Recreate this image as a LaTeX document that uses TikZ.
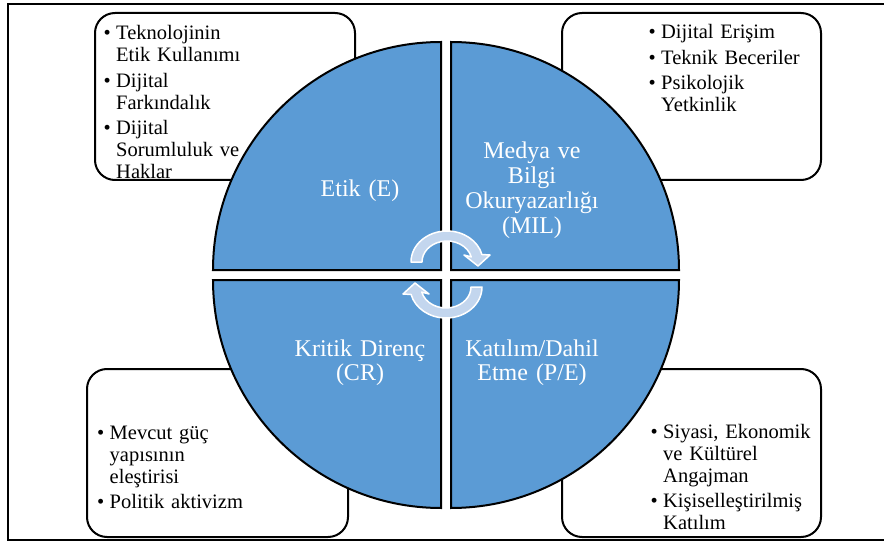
\documentclass[tikz,border=0pt]{standalone}
\usepackage{fontspec}
\setmainfont{Liberation Serif}
\definecolor{quadblue}{HTML}{5B9BD5}
\definecolor{arrowfill}{HTML}{C3D6EE}

% bullet items: bullet in a fixed box, the wrapped lines aligned after it;
% \prevdepth is reset so the next item keeps the normal line distance
\newcommand\firstitem[1]{\noindent\makebox[12.5pt][l]{\textbullet}%
  \parbox[t]{220pt}{\raggedright #1\strut}\par\prevdepth=\dp\strutbox}
\newcommand\nextitem[1]{\vspace{3.5pt}\firstitem{#1}}

\begin{document}
\begin{tikzpicture}[x=1pt,y=1pt,
  quadrant/.style={fill=quadblue,draw=black,line width=2pt,line join=miter},
  infobox/.style={draw=black,line width=2pt,rounded corners=20pt},
  boxtext/.style={anchor=base west,inner sep=0pt,text width=240pt,align=left,
    font=\fontsize{20.5}{22}\selectfont},
  quadlabel/.style={anchor=base,inner sep=0pt,text width=190pt,align=center,
    text=white,font=\fontsize{24}{24.7}\selectfont},
  cyclearrow/.style={fill=arrowfill,draw=white,line width=1.5pt,line join=round}]

\useasboundingbox (0,0) rectangle (884,542);

% outer frame (left, top and bottom edges)
\draw[line width=2pt] (890,538) -- (8.3,538) -- (8.3,2) -- (890,2);

% corner boxes
\draw[infobox] (95,529) rectangle (355,362);
\draw[infobox] (562,529) rectangle (821,362);
\draw[infobox] (87,173) rectangle (348,5);
\draw[infobox] (562,173) rectangle (821,5);

% box contents
\node[boxtext] (ethics) at (103.5,502) {%
  \firstitem{Teknolojinin\\Etik Kullanımı}%
  \nextitem{Dijital\\Farkındalık}%
  \nextitem{Dijital\\Sorumluluk ve\\Haklar}};
\node[boxtext] (mil) at (648.5,503) {%
  \firstitem{Dijital Erişim}%
  \nextitem{Teknik Beceriler}%
  \nextitem{Psikolojik\\Yetkinlik}};
\node[boxtext] (critical) at (97,103) {%
  \firstitem{Mevcut güç\\yapısının\\eleştirisi}%
  \nextitem{Politik aktivizm}};
\node[boxtext] (participation) at (650.5,104) {%
  \firstitem{Siyasi, Ekonomik\\ve Kültürel\\Angajman}%
  \nextitem{Kişiselleştirilmiş\\Katılım}};

% four quadrants of the circle
\draw[quadrant] (441,272) -- ++(-228,0) arc[start angle=180,end angle=90,radius=228] -- cycle;
\draw[quadrant] (451,272) -- ++(0,228) arc[start angle=90,end angle=0,radius=228] -- cycle;
\draw[quadrant] (441,262) -- ++(0,-228) arc[start angle=270,end angle=180,radius=228] -- cycle;
\draw[quadrant] (451,262) -- ++(228,0) arc[start angle=0,end angle=-90,radius=228] -- cycle;

% quadrant labels
\node[quadlabel] (qe) at (360,345) {Etik (E)};
\node[quadlabel] (qmil) at (532,383) {Medya ve\\Bilgi\\Okuryazarlığı\\(MIL)};
\node[quadlabel] (qcr) at (360,186) {Kritik Direnç\\(CR)};
\node[quadlabel] (qpe) at (532,186) {Katılım/Dahil\\Etme (P/E)};

% circular arrows in the middle
\begin{scope}[shift={(447,280)}]
  \draw[cyclearrow] (-25,0) -- (-36,0)
    arc[start angle=180,end angle=14,x radius=36,y radius=31]
    -- (43,7) -- (31,-4) -- (17,7) -- (24.26,5.08)
    arc[start angle=14,end angle=180,x radius=25,y radius=21] -- cycle;
\end{scope}
\begin{scope}[shift={(446,255)},rotate=180]
  \draw[cyclearrow] (-25,0) -- (-36,0)
    arc[start angle=180,end angle=14,x radius=36,y radius=31]
    -- (43,7) -- (31,-4) -- (17,7) -- (24.26,5.08)
    arc[start angle=14,end angle=180,x radius=25,y radius=21] -- cycle;
\end{scope}
\end{tikzpicture}
\end{document}
